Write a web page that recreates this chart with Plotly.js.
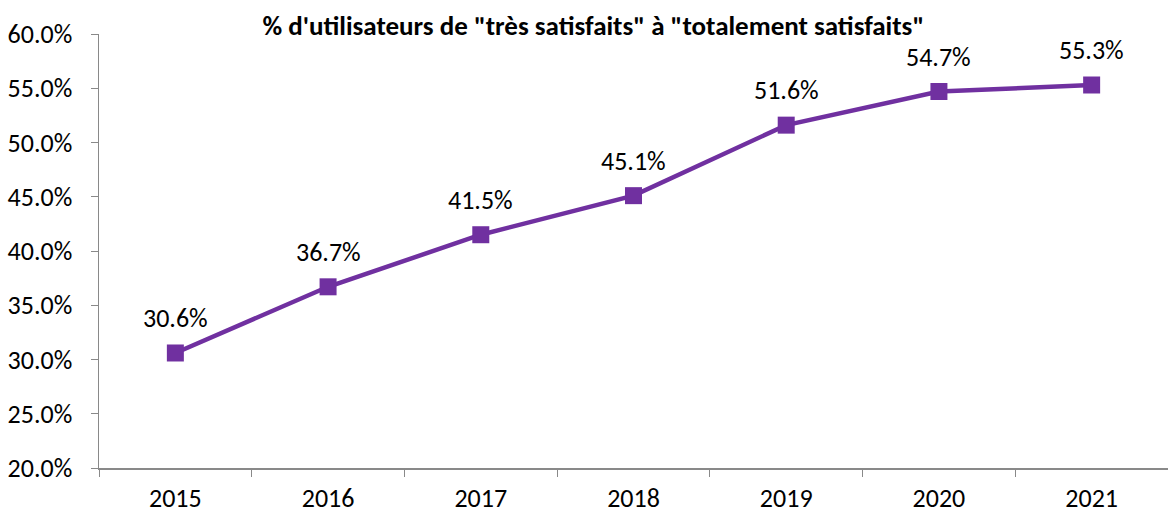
<!DOCTYPE html>
<html>
<head>
<meta charset="utf-8">
<script src="https://cdn.plot.ly/plotly-3.0.1.min.js"></script>
<style>html,body{margin:0;padding:0;background:#fff;}#chart{width:1168px;height:513px;}</style>
</head>
<body>
<div id="chart"></div>
<script>
const years = ['2015','2016','2017','2018','2019','2020','2021'];
const values = [0.306, 0.367, 0.415, 0.451, 0.516, 0.547, 0.553];
const labels = ['30.6%','36.7%','41.5%','45.1%','51.6%','54.7%','55.3%'];
const titleText = '% d\'utilisateurs de "très satisfaits" à "totalement satisfaits"';
const FONT = 'Calibri, Carlito, Lato, "Open Sans", sans-serif';

const trace = {
  x: years, y: values, type: 'scatter', mode: 'lines+markers',
  line: {color: '#7030A0', width: 4.5},
  marker: {symbol: 'square', size: 17, color: '#7030A0'},
  hoverinfo: 'skip'
};

const annotations = years.map((yr, i) => ({
  x: i, y: values[i], xref: 'x', yref: 'y', text: labels[i], showarrow: false,
  yshift: 35, font: {family: FONT, size: 26, color: '#000'}
}));

const layout = {
  width: 1168, height: 513,
  margin: {l: 99, r: 0, t: 34, b: 45},
  paper_bgcolor: '#fff', plot_bgcolor: '#fff',
  showlegend: false,
  title: {text: '<b>' + titleText + '</b>', x: 0.508, xanchor: 'center', y: 0.951, yanchor: 'middle',
          font: {family: FONT, size: 27, color: '#000'}},
  xaxis: {
    type: 'category', tickson: 'boundaries', ticks: 'outside', ticklen: 7,
    tickcolor: '#898989', showline: true, linecolor: '#898989', linewidth: 1.5,
    showgrid: false, zeroline: false, range: [-0.5, 6.5], ticklabelstandoff: 6,
    tickfont: {family: FONT, size: 26, color: '#000'}
  },
  yaxis: {
    range: [0.2, 0.6], dtick: 0.05, tickformat: '.1%', ticks: 'outside', ticklen: 7,
    tickcolor: '#898989', showline: true, linecolor: '#898989', linewidth: 1.5,
    showgrid: false, zeroline: false, ticklabelstandoff: 13,
    tickfont: {family: FONT, size: 26, color: '#000'}
  },
  annotations: annotations
};

Plotly.newPlot('chart', [trace], layout, {displayModeBar: false, staticPlot: true});
</script>
</body>
</html>
